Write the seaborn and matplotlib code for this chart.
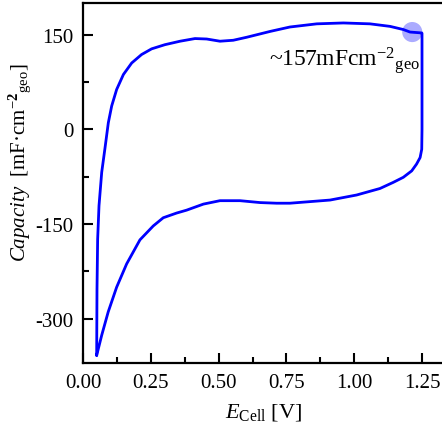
import matplotlib
matplotlib.use("Agg")
import matplotlib.pyplot as plt
import seaborn as sns
import pandas as pd
from matplotlib.ticker import MultipleLocator

# Cyclic voltammogram (capacity vs. cell voltage), anodic then cathodic sweep
e_anodic = [0.0504, 0.0516, 0.054, 0.059, 0.069, 0.081, 0.0934, 0.1058, 0.124,
            0.149, 0.1795, 0.216, 0.253, 0.302, 0.358, 0.413, 0.456, 0.505,
            0.554, 0.604, 0.690, 0.763, 0.862, 0.960, 1.058, 1.132, 1.181,
            1.206, 1.249]
c_anodic = [-358, -253, -174, -121, -68, -30, 10.5, 37, 63,
            86.8, 105, 118.4, 127.4, 134, 139.5, 143.7, 143, 139.5,
            141, 145.8, 155, 162, 167, 168.4, 167, 163, 158,
            154, 152.6]

e_cathodic = [1.250, 1.250, 1.249, 1.243, 1.230, 1.212, 1.181, 1.144, 1.095,
              1.009, 0.911, 0.763, 0.714, 0.653, 0.579, 0.505, 0.444, 0.382,
              0.345, 0.296, 0.259, 0.210, 0.161, 0.124, 0.093, 0.069, 0.0504]
c_cathodic = [152, 0, -31.6, -44.7, -55, -65.8, -76, -84, -93.7,
              -104, -112, -117, -117, -116, -113, -113, -118.4, -128,
              -132.6, -140, -153, -175, -213, -250, -289, -326, -358]

# Highlighted point and its label
mark_e = [1.214]
mark_c = [154]
mark_label = "~157mFcm$^{-2}$$_{\\mathrm{geo}}$"

x_ticks = [0.00, 0.25, 0.50, 0.75, 1.00, 1.25]
y_ticks = [-300, -150, 0, 150]

sns.set_theme(style="ticks")
plt.rcParams["font.family"] = ["Liberation Serif", "DejaVu Serif"]
plt.rcParams["mathtext.fontset"] = "custom"
plt.rcParams["mathtext.rm"] = "Liberation Serif"
plt.rcParams["mathtext.it"] = "Liberation Serif:italic"
plt.rcParams["mathtext.bf"] = "Liberation Serif:bold"
plt.rcParams["text.color"] = "black"
plt.rcParams["axes.labelcolor"] = "black"
plt.rcParams["xtick.color"] = "black"
plt.rcParams["ytick.color"] = "black"

df = pd.DataFrame({
    "E": e_anodic + e_cathodic,
    "C": c_anodic + c_cathodic,
})

fig = plt.figure(figsize=(4.42, 4.27), dpi=100)
ax = fig.add_axes([83 / 442, 63 / 427, 360.7 / 442, 360 / 427])

sns.lineplot(data=df, x="E", y="C", sort=False, estimator=None,
             color="#0000ff", linewidth=2.0, ax=ax)
sns.scatterplot(x=mark_e, y=mark_c, s=210, color="#0000ff", alpha=0.33,
                edgecolor="none", ax=ax, zorder=5)
ax.text(0.685, 135, mark_label, fontsize=17, color="black",
        ha="left", va="top")

ax.set_xlim(0, 1.33)
ax.set_ylim(-370, 200)
ax.set_xticks(x_ticks)
ax.set_xticklabels([f"{t:.2f}" for t in x_ticks])
ax.set_yticks(y_ticks)
ax.set_yticklabels([str(t) for t in y_ticks])
ax.xaxis.set_minor_locator(MultipleLocator(0.125))
ax.yaxis.set_minor_locator(MultipleLocator(75))

ax.tick_params(which="both", direction="in", width=1.5, colors="black",
               labelcolor="black", labelsize=15)
ax.tick_params(which="major", length=7)
ax.tick_params(which="minor", length=4)
ax.tick_params(axis="x", which="major", pad=7)
ax.tick_params(axis="y", which="major", pad=7)
for side in ["left", "bottom", "top", "right"]:
    ax.spines[side].set_linewidth(1.6)
    ax.spines[side].set_color("black")
    ax.spines[side].set_visible(True)

ax.set_xlabel("$\\mathit{E}_{\\mathrm{Cell}}$ [V]", fontsize=16, labelpad=7,
              color="black")
ax.set_ylabel("$\\mathit{Capacity}$  [mF·cm$^{-\\mathbf{2}}$$_{\\mathrm{geo}}$]",
              fontsize=15, color="black")
ax.yaxis.set_label_coords(-0.139, 0.56)

fig.savefig("out.png", dpi=100)
